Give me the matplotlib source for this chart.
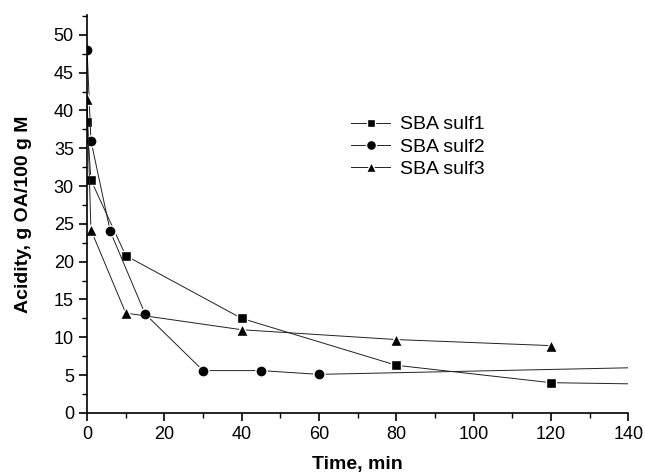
import matplotlib
matplotlib.use("Agg")
from matplotlib import pyplot as plt
from matplotlib.ticker import MultipleLocator

plt.rcParams['font.family'] = ['Liberation Sans', 'DejaVu Sans']

# SBA sulf1 (squares); last point lies beyond the x range, line runs to the edge
t1 = [0, 1, 10, 40, 80, 120, 180]
a1 = [38.5, 30.8, 20.8, 12.5, 6.3, 4.0, 3.55]
# SBA sulf2 (circles)
t2 = [0, 1, 6, 15, 30, 45, 60, 180]
a2 = [48.0, 36.0, 24.0, 13.1, 5.6, 5.6, 5.1, 6.4]
# SBA sulf3 (triangles)
t3 = [0, 1, 10, 40, 80, 120]
a3 = [41.5, 24.2, 13.2, 11.0, 9.7, 8.9]

fig = plt.figure(figsize=(6.45, 4.73), dpi=100)
ax = fig.add_axes([0.135, 0.127, 0.839, 0.841])

# white marker edge gives the small gap between line and symbol
ax.plot(t1, a1, color='#222222', lw=0.7, marker='s', ms=7, mfc='black', mec='white', mew=1.0, label='SBA sulf1')
ax.plot(t2, a2, color='#222222', lw=0.7, marker='o', ms=8, mfc='black', mec='white', mew=1.0, label='SBA sulf2')
ax.plot(t3, a3, color='#222222', lw=0.7, marker='^', ms=8, mfc='black', mec='white', mew=1.0, label='SBA sulf3')

ax.set_xlim(0, 140)
ax.set_ylim(0, 52.6)
ax.xaxis.set_major_locator(MultipleLocator(20))
ax.xaxis.set_minor_locator(MultipleLocator(10))
ax.yaxis.set_major_locator(MultipleLocator(5))
ax.yaxis.set_minor_locator(MultipleLocator(2.5))
ax.spines['top'].set_visible(False)
ax.spines['right'].set_visible(False)
for s in ('left', 'bottom'):
    ax.spines[s].set_linewidth(1.2)
ax.tick_params(which='major', direction='out', length=6, width=1.2, labelsize=13)
ax.tick_params(which='minor', direction='out', length=3.5, width=1.0)

ax.set_xlabel('Time, min', fontsize=14, fontweight='bold', labelpad=9)
ax.set_ylabel('Acidity, g OA/100 g M', fontsize=14, fontweight='bold', labelpad=16)

ax.legend(loc='upper left', bbox_to_anchor=(0.456, 0.791), frameon=False, fontsize=14,
          handlelength=2.0, labelspacing=0.24, handletextpad=0.5, markerscale=0.9)

fig.savefig('out.png', dpi=100)
